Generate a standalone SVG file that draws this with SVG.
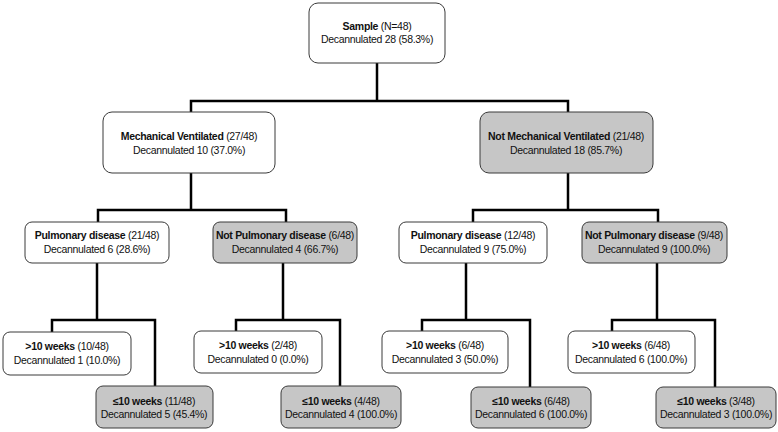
<svg xmlns="http://www.w3.org/2000/svg" width="778" height="432" viewBox="0 0 778 432">
<style>
.w{fill:#ffffff;stroke:#3a3a3a;stroke-width:1}
.g{fill:#c6c6c6;stroke:#3a3a3a;stroke-width:1}
text{font-family:"Liberation Sans",Arial,sans-serif;font-size:10.5px;fill:#111;text-anchor:middle;letter-spacing:-0.3px}
.b{font-weight:bold}
.c{fill:none;stroke:#000;stroke-width:2.5;stroke-linecap:square}
</style>
<g id="connectors">
<path class="c" d="M377 63V101M191 112V101H568V112"/>
<path class="c" d="M191 173V210M98 222V210H286V222"/>
<path class="c" d="M568 173V210M473 222V210H658V222"/>
<path class="c" d="M97 263V320M52 332V320H155V386"/>
<path class="c" d="M283 263V320M236 331V320H340V386"/>
<path class="c" d="M466 263V320M422 331V320H530V387"/>
<path class="c" d="M657 263V320M612 331V320H715V387"/>
</g>
<g id="sample">
<rect class="w" x="309" y="3" width="136" height="60" rx="9"/>
<text x="377" y="30"><tspan class="b">Sample</tspan> (N=48)</text>
<text x="377" y="43">Decannulated 28 (58.3%)</text>
</g>
<g id="mech">
<rect class="w" x="103" y="112" width="172" height="61" rx="9"/>
<text x="189" y="140"><tspan class="b">Mechanical Ventilated</tspan>  (27/48)</text>
<text x="189" y="154">Decannulated 10 (37.0%)</text>
</g>
<g id="notmech">
<rect class="g" x="480" y="112" width="173" height="61" rx="9"/>
<text x="566" y="140"><tspan class="b">Not Mechanical Ventilated</tspan>  (21/48)</text>
<text x="566" y="154">Decannulated 18 (85.7%)</text>
</g>
<g id="pulmL">
<rect class="w" x="25" y="222" width="144" height="41" rx="7"/>
<text x="97" y="239"><tspan class="b">Pulmonary disease</tspan>  (21/48)</text>
<text x="97" y="253">Decannulated 6 (28.6%)</text>
</g>
<g id="notpulmL">
<rect class="g" x="213" y="222" width="144" height="41" rx="7"/>
<text x="285" y="239"><tspan class="b">Not Pulmonary  disease</tspan> (6/48)</text>
<text x="285" y="253">Decannulated 4 (66.7%)</text>
</g>
<g id="pulmR">
<rect class="w" x="399" y="222" width="148" height="41" rx="7"/>
<text x="473" y="239"><tspan class="b">Pulmonary disease</tspan> (12/48)</text>
<text x="473" y="253">Decannulated  9 (75.0%)</text>
</g>
<g id="notpulmR">
<rect class="g" x="582" y="222" width="145" height="41" rx="7"/>
<text x="654" y="239"><tspan class="b">Not Pulmonary  disease</tspan> (9/48)</text>
<text x="654" y="253">Decannulated  9 (100.0%)</text>
</g>
<g id="gt10A">
<rect class="w" x="3" y="332" width="128" height="43" rx="7"/>
<text x="67" y="350"><tspan class="b">&gt;10 weeks</tspan> (10/48)</text>
<text x="67" y="364">Decannulated 1 (10.0%)</text>
</g>
<g id="le10A">
<rect class="g" x="96" y="386" width="117" height="42" rx="7"/>
<text x="154" y="405"><tspan class="b">≤10 weeks</tspan> (11/48)</text>
<text x="154" y="418">Decannulated 5 (45.4%)</text>
</g>
<g id="gt10B">
<rect class="w" x="194" y="331" width="128" height="42" rx="7"/>
<text x="258" y="349"><tspan class="b">&gt;10 weeks</tspan> (2/48)</text>
<text x="258" y="363">Decannulated 0 (0.0%)</text>
</g>
<g id="le10B">
<rect class="g" x="281" y="386" width="120" height="42" rx="7"/>
<text x="341" y="405"><tspan class="b">≤10 weeks</tspan> (4/48)</text>
<text x="341" y="418">Decannulated 4 (100.0%)</text>
</g>
<g id="gt10C">
<rect class="w" x="382" y="331" width="126" height="42" rx="7"/>
<text x="445" y="349"><tspan class="b">&gt;10 weeks</tspan> (6/48)</text>
<text x="445" y="363">Decannulated 3 (50.0%)</text>
</g>
<g id="le10C">
<rect class="g" x="471" y="387" width="120" height="41" rx="7"/>
<text x="531" y="405"><tspan class="b">≤10 weeks</tspan> (6/48)</text>
<text x="531" y="418">Decannulated 6 (100.0%)</text>
</g>
<g id="gt10D">
<rect class="w" x="568" y="331" width="127" height="42" rx="7"/>
<text x="631" y="349"><tspan class="b">&gt;10 weeks</tspan> (6/48)</text>
<text x="631" y="363">Decannulated 6 (100.0%)</text>
</g>
<g id="le10D">
<rect class="g" x="656" y="387" width="120" height="41" rx="7"/>
<text x="716" y="405"><tspan class="b">≤10 weeks</tspan> (3/48)</text>
<text x="716" y="418">Decannulated 3 (100.0%)</text>
</g>
</svg>
